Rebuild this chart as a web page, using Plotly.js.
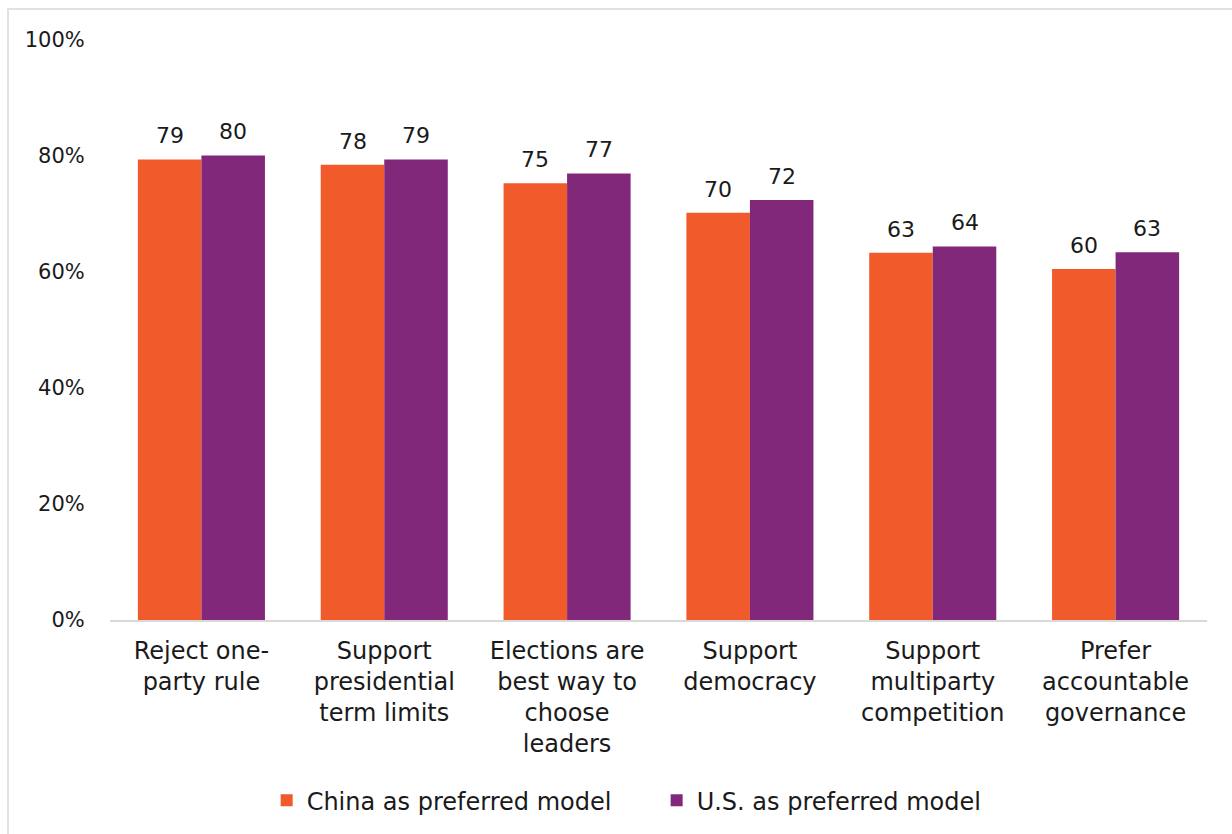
<!DOCTYPE html>
<html>
<head>
<meta charset="utf-8">
<script src="https://cdn.plot.ly/plotly-3.0.1.min.js"></script>
<style>
  html, body { margin: 0; padding: 0; background: #ffffff; overflow: hidden; }
  #frame { position: absolute; left: 7px; top: 8px; width: 1400px; height: 1000px; border: 2px solid #e2e2e2; box-sizing: border-box; }
  #chart { position: absolute; left: 0; top: 0; width: 1232px; height: 834px; }
</style>
</head>
<body>
<div id="frame"></div>
<div id="chart"></div>
<script>
// Categories (x tick labels)
const categories = [
  "Reject one-<br>party rule",
  "Support<br>presidential<br>term limits",
  "Elections are<br>best way to<br>choose<br>leaders",
  "Support<br>democracy",
  "Support<br>multiparty<br>competition",
  "Prefer<br>accountable<br>governance"
];

// Series names
const seriesNames = ["China as preferred model", "U.S. as preferred model"];

// Bar values (percent)
const chinaValues = [79.4, 78.5, 75.3, 70.2, 63.3, 60.5];
const usValues    = [80.1, 79.4, 77.0, 72.4, 64.4, 63.4];

// Data labels shown above bars
const chinaLabels = ["79", "78", "75", "70", "63", "60"];
const usLabels    = ["80", "79", "77", "72", "64", "63"];

// Y tick values and labels
const yTickVals = [0, 20, 40, 60, 80, 100];
const yTickText = ["0%", "20%", "40%", "60%", "80%", "100%"];

const colors = ["#F15A2A", "#82287A"];
const FONT = "'Century Gothic', 'DejaVu Sans', sans-serif";

const traces = [
  { type: "bar", name: seriesNames[0], x: categories, y: chinaValues,
    marker: { color: colors[0] }, hoverinfo: "skip" },
  { type: "bar", name: seriesNames[1], x: categories, y: usValues,
    marker: { color: colors[1] }, hoverinfo: "skip" }
];

const BAR_OFFSET = 31.75;
const annotations = [];
categories.forEach((c, i) => {
  annotations.push({ x: c, y: chinaValues[i], text: chinaLabels[i], xref: "x", yref: "y",
    xshift: -BAR_OFFSET, yshift: 9, yanchor: "bottom", showarrow: false,
    font: { family: FONT, size: 22, color: "#1a1a1a" } });
  annotations.push({ x: c, y: usValues[i], text: usLabels[i], xref: "x", yref: "y",
    xshift: BAR_OFFSET, yshift: 9, yanchor: "bottom", showarrow: false,
    font: { family: FONT, size: 22, color: "#1a1a1a" } });
});

const layout = {
  width: 1232, height: 834,
  paper_bgcolor: "rgba(0,0,0,0)", plot_bgcolor: "rgba(0,0,0,0)",
  margin: { l: 110, r: 25, t: 40, b: 214, pad: 0 },
  barmode: "group", bargap: 0.305, bargroupgap: 0,
  font: { family: FONT, color: "#1a1a1a" },
  showlegend: true,
  legend: { orientation: "h", xref: "container", x: 0.533, xanchor: "center",
    yref: "container", y: 0.04, yanchor: "middle", entrywidth: 345, entrywidthmode: "pixels",
    font: { family: FONT, size: 24, color: "#1a1a1a" }, itemwidth: 30, traceorder: "normal" },
  xaxis: { type: "category", showline: true, linecolor: "#d9d9d9", linewidth: 2,
    showgrid: false, zeroline: false, ticks: "outside", ticklen: 8, tickcolor: "rgba(0,0,0,0)",
    tickfont: { family: FONT, size: 24, color: "#1a1a1a" }, tickangle: 0 },
  yaxis: { range: [0, 100], tickvals: yTickVals, ticktext: yTickText, showline: false,
    showgrid: false, zeroline: false, ticks: "outside", ticklen: 20, tickcolor: "rgba(0,0,0,0)",
    tickfont: { family: FONT, size: 21, color: "#1a1a1a" } },
  annotations: annotations
};

Plotly.newPlot("chart", traces, layout, { displayModeBar: false, staticPlot: true });
</script>
</body>
</html>
